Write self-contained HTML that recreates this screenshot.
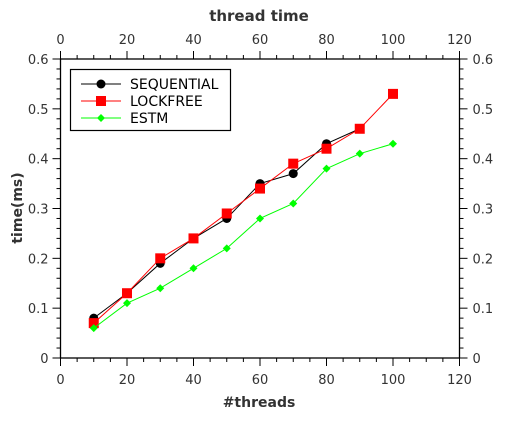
<!DOCTYPE html>
<html><head><meta charset="utf-8"><style>
body{margin:0;background:#fff;}
svg text{font-family:"DejaVu Sans","Liberation Sans",sans-serif;}
</style></head><body>
<svg id="chart" width="519" height="419" viewBox="0 0 519 419" xmlns="http://www.w3.org/2000/svg">
<g id="axes"></g>
<g id="series"></g>
<g id="legend"></g>
</svg>
<script>
const xCategories=[10,20,30,40,50,60,70,80,90,100];
const seqValues=[0.08,0.13,0.19,0.24,0.28,0.35,0.37,0.43,0.46];
const lockValues=[0.07,0.13,0.20,0.24,0.29,0.34,0.39,0.42,0.46,0.53];
const estmValues=[0.06,0.11,0.14,0.18,0.22,0.28,0.31,0.38,0.41,0.43];
const xTicks=[0,20,40,60,80,100,120];
const yTicks=[0,0.1,0.2,0.3,0.4,0.5,0.6];

const L=60.5,R=459.5,T=59,B=358;
const xs=v=>L+(v/120)*(R-L);
const ys=v=>B-(v/0.6)*(B-T);
const NS="http://www.w3.org/2000/svg";
function mk(tag,attrs,parent){const e=document.createElementNS(NS,tag);for(const k in attrs)e.setAttribute(k,attrs[k]);parent.appendChild(e);return e;}
const axes=document.getElementById('axes');
const frame=mk('rect',{x:L,y:T,width:R-L,height:B-T,fill:'none',stroke:'#000','stroke-width':1.3},axes);


// x minor/major ticks
for(let v=0;v<=120;v+=5){
  const major=v%20===0,len=major?8:4,x=xs(v);
  const t1=mk('line',{x1:x,y1:B,x2:x,y2:B+len,stroke:'#000','stroke-width':1},axes);
  
  
  const t2=mk('line',{x1:x,y1:T,x2:x,y2:T-len,stroke:'#000','stroke-width':1},axes);
  
  
}
for(let i=0;i<=30;i++){
  const v=i*0.02,major=i%5===0,len=major?8:4,y=ys(v);
  const t1=mk('line',{x1:L,y1:y,x2:L-len,y2:y,stroke:'#000','stroke-width':1},axes);
  
  
  const t2=mk('line',{x1:R,y1:y,x2:R+len,y2:y,stroke:'#000','stroke-width':1},axes);
  
  
}
xTicks.forEach(v=>{
  const a=mk('text',{x:xs(v),y:B+26,'text-anchor':'middle','font-size':13,fill:'#333'},axes);a.textContent=v;
  
  
  const b=mk('text',{x:xs(v),y:T-15,'text-anchor':'middle','font-size':13,fill:'#333'},axes);b.textContent=v;
  
  
});
yTicks.forEach(v=>{
  const a=mk('text',{x:L-12,y:ys(v)+5,'text-anchor':'end','font-size':13,fill:'#333'},axes);a.textContent=v;
  
  
  const b=mk('text',{x:R+13,y:ys(v)+5,'text-anchor':'start','font-size':13,fill:'#333'},axes);b.textContent=v;
  
  
});
const tt=mk('text',{x:259,y:21,'text-anchor':'middle','font-size':15,'font-weight':'bold',fill:'#333'},axes);tt.textContent='thread time';


const xt=mk('text',{x:259,y:407,'text-anchor':'middle','font-size':14,'font-weight':'bold',fill:'#333'},axes);xt.textContent='#threads';


const yt=mk('text',{x:0,y:0,'text-anchor':'middle','font-size':14,'font-weight':'bold',fill:'#333',transform:'translate(22,208) rotate(-90)'},axes);yt.textContent='time(ms)';



const ser=document.getElementById('series');
function marker(kind,x,y,color,g){
  let m;
  if(kind==='circle')m=mk('circle',{cx:x,cy:y,r:4.5,fill:color},g);
  else if(kind==='square')m=mk('rect',{x:x-5,y:y-5,width:10,height:10,fill:color},g);
  else m=mk('polygon',{points:`${x},${y-4} ${x+4},${y} ${x},${y+4} ${x-4},${y}`,fill:color},g);
  return m;
}
function drawSeries(vals,color,kind,name){
  const g=mk('g',{},ser);
  
  
  const pts=vals.map((v,i)=>xs(xCategories[i])+','+ys(v)).join(' ');
  const pl=mk('polyline',{points:pts,fill:'none',stroke:color,'stroke-width':1},g);
  
  
  vals.forEach((v,i)=>{
    const m=marker(kind,xs(xCategories[i]),ys(v),color,g);
    
    
  });
}
drawSeries(seqValues,'#000','circle','sequential');
drawSeries(lockValues,'#f00','square','lockfree');
drawSeries(estmValues,'#0f0','diamond','estm');

const lg=document.getElementById('legend');


mk('rect',{x:70.5,y:69.5,width:160,height:61,fill:'#fff',stroke:'#000','stroke-width':1.2},lg);
[['SEQUENTIAL','#000','circle'],['LOCKFREE','#f00','square'],['ESTM','#0f0','diamond']].forEach((e,i)=>{
  const y=84+i*17;
  const g=mk('g',{},lg);
  
  
  mk('line',{x1:81,y1:y,x2:121,y2:y,stroke:e[1],'stroke-width':1},g);
  marker(e[2],101,y,e[1],g);
  const t=mk('text',{x:130,y:y+5,'font-size':14,fill:'#000'},g);t.textContent=e[0];
});
</script>
</body></html>
